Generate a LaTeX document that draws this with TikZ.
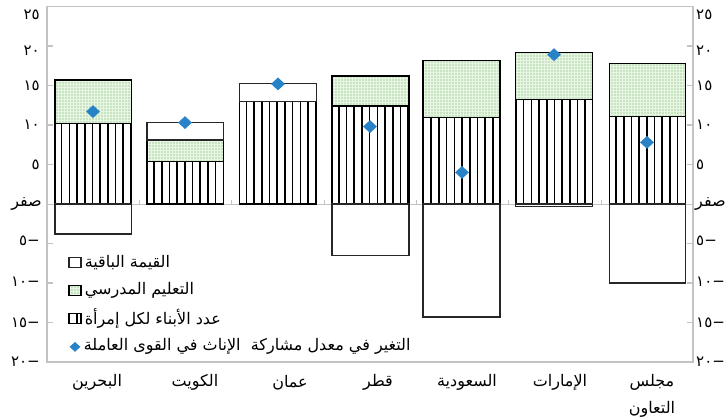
\documentclass[tikz,border=0pt]{standalone}
\usepackage{fontspec}
\usetikzlibrary{positioning,shapes.geometric,patterns.meta}
\newfontfamily\arabicfont[Script=Arabic]{DejaVu Sans}
\newfontfamily\numfont{DejaVu Sans}
\TeXXeTstate=1
\definecolor{lfpblue}{RGB}{40,130,200}
\definecolor{dotgreen}{RGB}{90,175,80}
\definecolor{dotbg}{RGB}{232,244,228}
\definecolor{axisgray}{RGB}{195,195,195}
\begin{document}
\begin{tikzpicture}[x=1pt, y=7.9pt,
  kids/.style = {draw, line width=1.2pt, pattern={Lines[angle=90,distance=7.7pt,line width=1.6pt]}},
  school/.style = {draw, line width=1.2pt, preaction={fill=dotbg}, pattern={Dots[distance=3pt,radius=0.7pt]}, pattern color=dotgreen},
  remain/.style = {draw=black!85, line width=1.2pt, fill=white},
  lfp/.style = {diamond, fill=lfpblue, inner sep=0pt, minimum width=14pt, minimum height=13pt},
  key/.style = {line width=1.2pt, minimum width=12pt, minimum height=10pt, inner sep=0pt},
  axis/.style = {draw=axisgray, line width=1.2pt},
  num/.style = {font=\numfont\fontsize{15}{18}\selectfont, inner sep=1pt},
  ar/.style = {font=\arabicfont\fontsize{16}{27}\selectfont, inner sep=1pt}]
\useasboundingbox (0,-27.215) rectangle (726,25.823);

\draw[axis] (47,-20) rectangle (693,25);
\draw[axis, line width=0.8pt] (47,0) -- (693,0);
\draw[axis, line width=0.8pt] (139.2,0) -- (139.2,0.5) (231.6,0) -- (231.6,0.5) (324,0) -- (324,0.5)
  (416.4,0) -- (416.4,0.5) (508.8,0) -- (508.8,0.5) (601.2,0) -- (601.2,0.5);
\draw[axis] (47,-20) -- ++(6,0) (47,-15) -- ++(6,0) (47,-10) -- ++(6,0) (47,-5) -- ++(6,0)
  (47,5) -- ++(6,0) (47,10) -- ++(6,0) (47,15) -- ++(6,0) (47,20) -- ++(6,0);
\draw[axis] (693,-15) -- ++(-6,0) (693,-10) -- ++(-6,0) (693,-5) -- ++(-6,0)
  (693,5) -- ++(-6,0) (693,10) -- ++(-6,0) (693,15) -- ++(-6,0) (693,20) -- ++(-6,0);

\draw[kids] (55,0) rectangle (131.5,10.2);
\draw[school] (55,10.2) rectangle (131.5,15.7);
\draw[remain] (55,0) rectangle (131.5,-3.8);

\draw[kids] (147,0) rectangle (223.5,5.35);
\draw[school] (147,5.35) rectangle (223.5,8.1);
\draw[remain] (147,8.1) rectangle (223.5,10.3);

\draw[kids] (239.5,0) rectangle (316.5,13);
\draw[remain] (239.5,13) rectangle (316.5,15.3);

\draw[kids] (332,0) rectangle (409,12.4);
\draw[school] (332,12.4) rectangle (409,16.2);
\draw[remain] (332,0) rectangle (409,-6.5);

\draw[kids] (423,0) rectangle (500,10.9);
\draw[school] (423,10.9) rectangle (500,18.2);
\draw[remain] (423,0) rectangle (500,-14.3);

\draw[kids] (515.5,0) rectangle (592.5,13.2);
\draw[school] (515.5,13.2) rectangle (592.5,19.2);
\draw[remain] (515.5,0) rectangle (592.5,-0.3);

\draw[kids] (609.5,0) rectangle (685.5,11.05);
\draw[school] (609.5,11.05) rectangle (685.5,17.8);
\draw[remain] (609.5,0) rectangle (685.5,-10);

\node[lfp] (d1) at (93,11.7) {};
\node[lfp] (d2) at (185,10.3) {};
\node[lfp] (d3) at (278,15.2) {};
\node[lfp] (d4) at (370,9.8) {};
\node[lfp] (d5) at (462,4) {};
\node[lfp] (d6) at (554,18.9) {};
\node[lfp] (d7) at (647,7.8) {};

\node[num, anchor=east] (l25) at (41,24) {٢٥};
\node[num, anchor=east] (l20) at (41,19.4) {٢٠};
\node[num, anchor=east] (l15) at (41,15) {١٥};
\node[num, anchor=east] (l10) at (41,10) {١٠};
\node[num, anchor=east] (l5) at (41,5) {٥};
\node[ar, anchor=east] (l0) at (43,0) {\beginR صفر\endR};
\node[num, anchor=east] (lm5) at (41,-4.6) {٥−};
\node[num, anchor=east] (lm10) at (41,-9.8) {١٠−};
\node[num, anchor=east] (lm15) at (41,-15) {١٥−};
\node[num, anchor=east] (lm20) at (41,-20) {٢٠−};

\node[num, anchor=west] (r25) at (695,24) {٢٥};
\node[num, anchor=west] (r20) at (695,19.4) {٢٠};
\node[num, anchor=west] (r15) at (695,15) {١٥};
\node[num, anchor=west] (r10) at (695,10) {١٠};
\node[num, anchor=west] (r5) at (695,5) {٥};
\node[ar, anchor=west] (r0) at (694,0) {\beginR صفر\endR};
\node[num, anchor=west] (rm5) at (695,-4.6) {٥−};
\node[num, anchor=west] (rm10) at (695,-9.8) {١٠−};
\node[num, anchor=west] (rm15) at (695,-15) {١٥−};
\node[num, anchor=west] (rm20) at (695,-20) {٢٠−};

\node[ar] (c1) at (97,-22.6) {\beginR البحرين\endR};
\node[ar] (c2) at (195,-22.6) {\beginR الكويت\endR};
\node[ar] (c3) at (290,-22.6) {\beginR عمان\endR};
\node[ar] (c4) at (378,-22.6) {\beginR قطر\endR};
\node[ar] (c5) at (467,-22.6) {\beginR السعودية\endR};
\node[ar] (c6) at (560,-22.6) {\beginR الإمارات\endR};
\node[ar, align=center] (c7) at (652,-24.3) {\beginR مجلس\endR\\\beginR التعاون\endR};

\begin{scope}[node distance=28pt]
\node[remain, key] (k1) at (75,-7.45) {};
\node[school, key] (k2) [below of=k1] {};
\node[kids, key] (k3) [below of=k2] {};
\node[lfp, minimum width=11pt, minimum height=10pt] (k4) [below of=k3] {};
\node[ar, right=2pt of k1] (t1) {\beginR القيمة الباقية\endR};
\node[ar, right=2pt of k2] (t2) {\beginR التعليم المدرسي\endR};
\node[ar, right=2pt of k3] (t3) {\beginR عدد الأبناء لكل إمرأة\endR};
\node[ar, right=2pt of k4] (t4) {\beginR التغير في معدل مشاركة~ الإناث في القوى العاملة\endR};
\end{scope}
\end{tikzpicture}
\end{document}
